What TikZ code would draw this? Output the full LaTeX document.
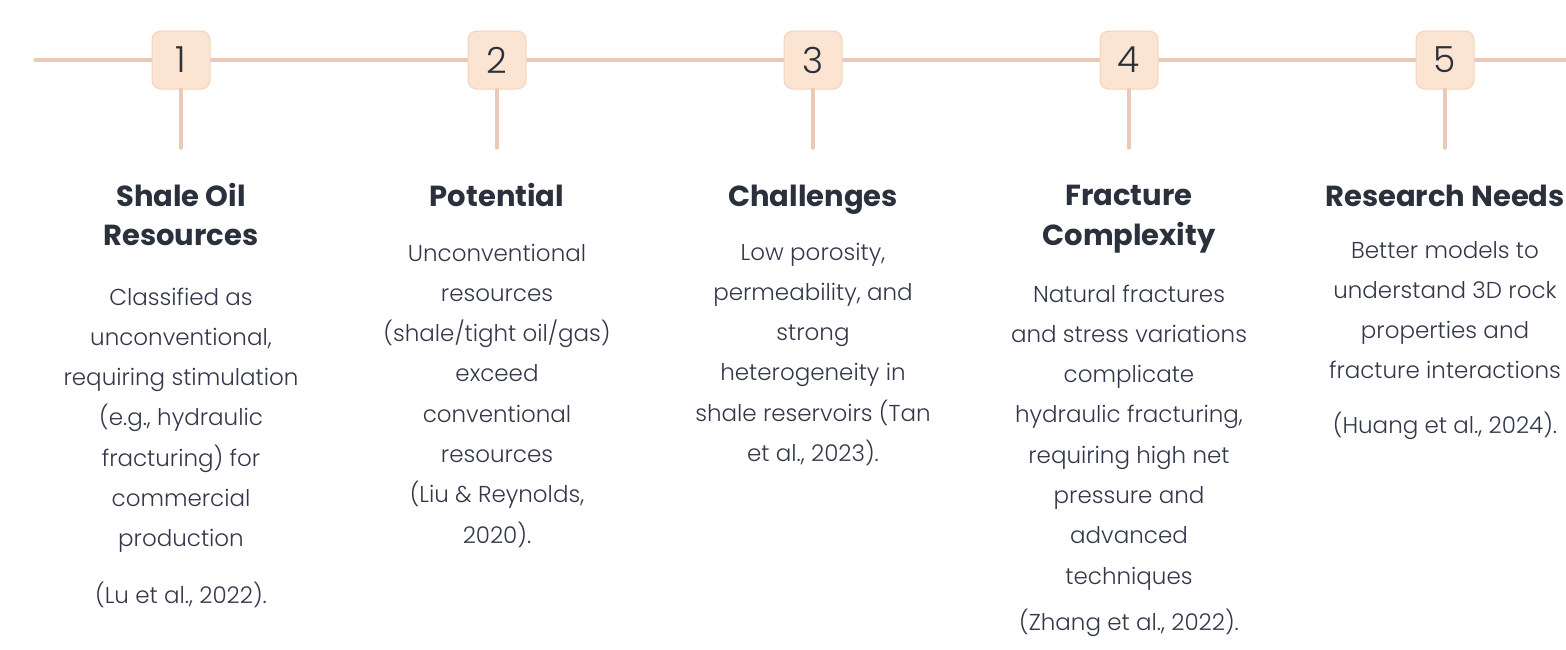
\documentclass[tikz,border=0pt]{standalone}
\usepackage{fontspec}
\setmainfont{Poppins}
\newfontfamily\lightfont{Poppins Light}
\definecolor{linec}{HTML}{E8CAB6}
\definecolor{boxfill}{HTML}{FCE4D3}
\definecolor{boxdraw}{HTML}{F3D3BE}
\definecolor{titlec}{HTML}{2B303D}
\definecolor{bodyc}{HTML}{33374A}
\begin{document}
\begin{tikzpicture}[x=1pt,y=-1pt,
  conn/.style={draw=linec,line width=3.5pt,line cap=round},
  numbox/.style={draw=boxdraw,fill=boxfill,line width=1pt,rounded corners=9pt,
    minimum width=58pt,minimum height=58pt,inner sep=0pt,
    font=\lightfont\fontsize{36}{40}\selectfont,text=titlec},
  ttl/.style={anchor=base,inner sep=0pt,font=\bfseries\fontsize{29}{34}\selectfont,text=titlec},
  body/.style={anchor=base,inner sep=0pt,font=\lightfont\fontsize{23}{28}\selectfont,text=bodyc}]
\useasboundingbox (0,0) rectangle (1566,649);
\newcommand\bodylines[4]{%
  \foreach \l [count=\i] in {#4}
    \node[body] (d#3-\i) at (#1,{#2+40.3*(\i-1)}) {\l};}
% timeline
\coordinate (ls) at (35,60);
\coordinate (le) at (1566,60);
\foreach \n/\x in {1/181,2/497,3/813,4/1129,5/1445}{
  \coordinate (s\n) at (\x,148);
}
\draw[conn] (ls) -- (le);
\foreach \n/\x in {1/181,2/497,3/813,4/1129,5/1445}{
  \node[numbox] (b\n) at (\x,60) {\n};
  \draw[conn] (b\n.south) -- (s\n);
}
% column 1
\node[ttl] (t1a) at (181,206) {Shale Oil};
\node[ttl] (t1b) at (181,245) {Resources};
\bodylines{181}{305}{1}{{Classified as},{unconventional,},{requiring stimulation},{(e.g., hydraulic},{fracturing) for},{commercial},{production}}
\node[body] (c1) at (181,603) {(Lu et al., 2022).};
% column 2
\node[ttl] (t2) at (497,206) {Potential};
\bodylines{497}{261}{2}{{Unconventional},{resources},{(shale/tight oil/gas)},{exceed},{conventional},{resources},{(Liu \& Reynolds,},{2020).}}
% column 3
\node[ttl] (t3) at (813,206) {Challenges};
\bodylines{813}{260}{3}{{Low porosity,},{permeability, and},{strong},{heterogeneity in},{shale reservoirs (Tan},{et al., 2023).}}
% column 4
\node[ttl] (t4a) at (1129,205) {Fracture};
\node[ttl] (t4b) at (1129,245) {Complexity};
\bodylines{1129}{302}{4}{{Natural fractures},{and stress variations},{complicate},{hydraulic fracturing,},{requiring high net},{pressure and},{advanced},{techniques}}
\node[body] (c4) at (1129,630) {(Zhang et al., 2022).};
% column 5
\node[ttl] (t5) at (1445,206) {Research Needs};
\bodylines{1445}{258}{5}{{Better models to},{understand 3D rock},{properties and},{fracture interactions}}
\node[body] (c5) at (1445,433) {(Huang et al., 2024).};
\end{tikzpicture}
\end{document}
